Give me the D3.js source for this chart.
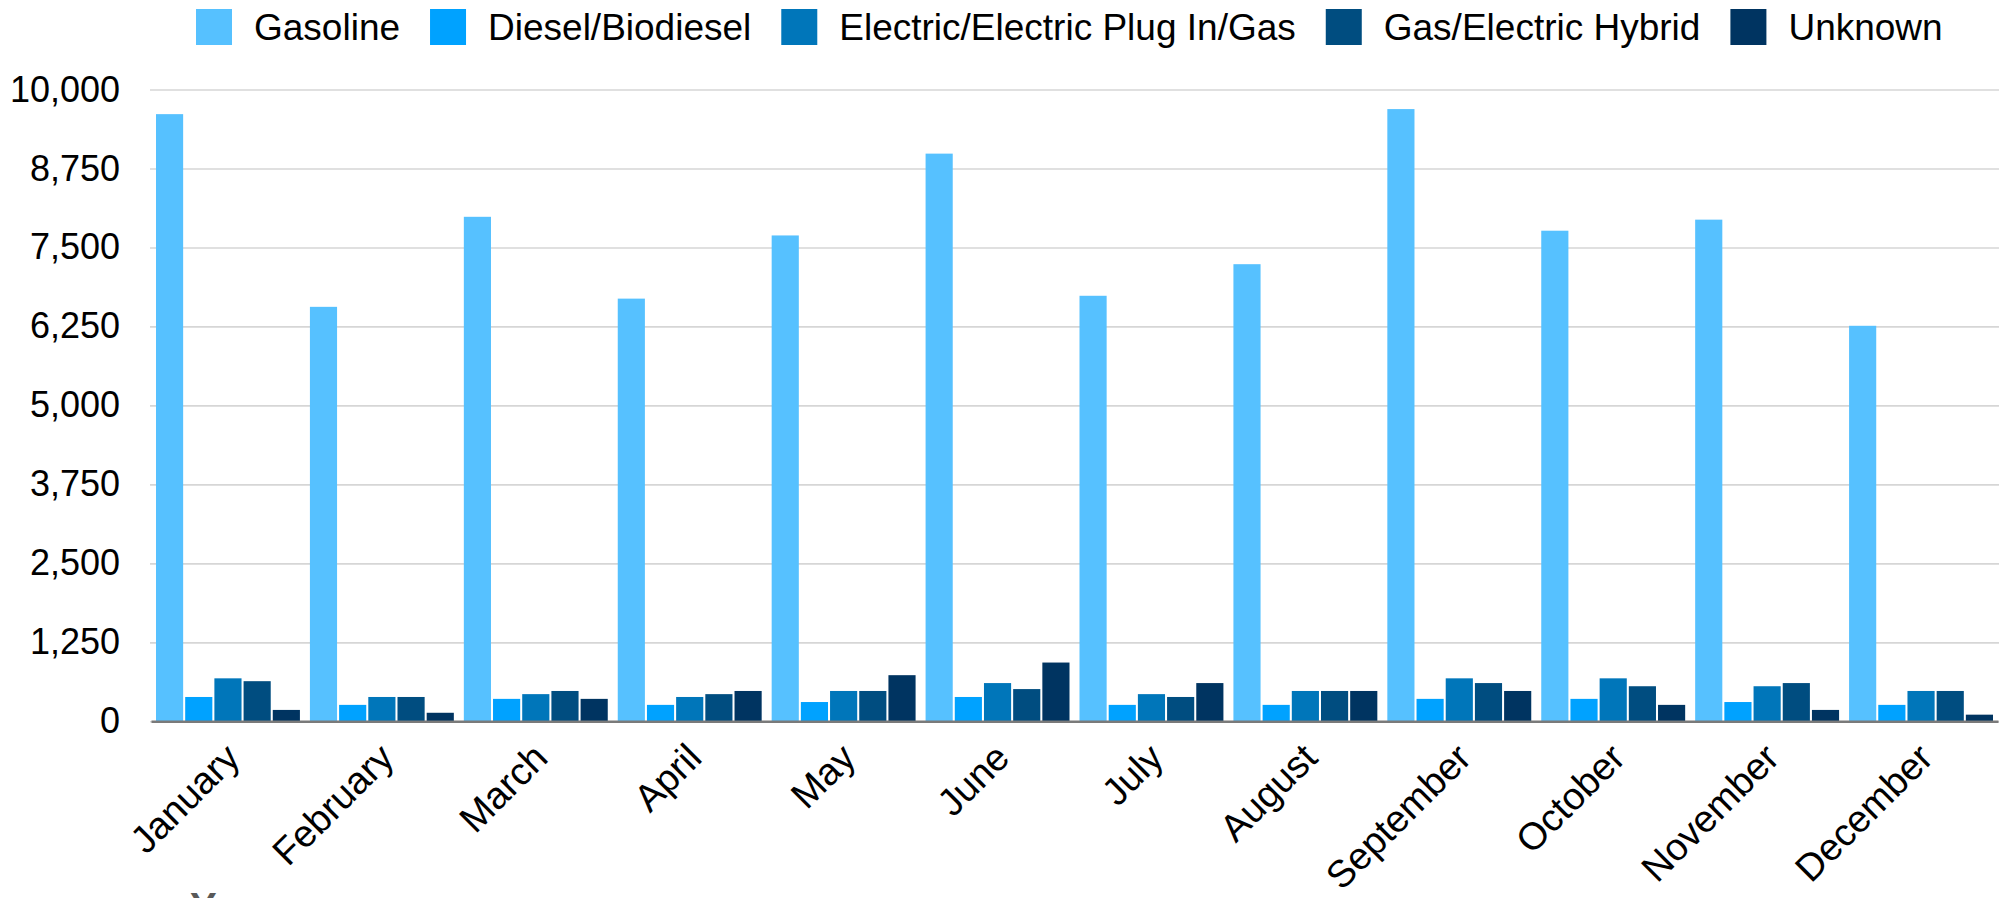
<!DOCTYPE html>
<html>
<head>
<meta charset="utf-8">
<script src="https://cdn.jsdelivr.net/npm/d3@7"></script>
<style>
  html, body { margin: 0; padding: 0; background: #ffffff; }
  svg { display: block; }
  text { font-family: "Liberation Sans", Arial, Helvetica, sans-serif; }
</style>
</head>
<body>
<svg id="chart" width="2013" height="898"></svg>
<script>
const months = ["January","February","March","April","May","June","July","August","September","October","November","December"];
const seriesNames = ["Gasoline","Diesel/Biodiesel","Electric/Electric Plug In/Gas","Gas/Electric Hybrid","Unknown"];
const seriesColors = ["#56c1ff","#00a2ff","#0076ba","#004d80","#003461"];
const gasoline = [9610, 6560, 7985, 6690, 7690, 8985, 6735, 7235, 9690, 7765, 7940, 6260];
const diesel   = [385, 260, 355, 260, 305, 385, 260, 260, 355, 355, 305, 260];
const electric = [680, 385, 430, 385, 480, 605, 430, 480, 680, 680, 555, 480];
const hybrid   = [635, 385, 480, 430, 480, 510, 385, 480, 605, 555, 605, 480];
const unknown  = [180, 135, 355, 480, 730, 930, 605, 480, 480, 260, 180, 105];
const yTicks = [0, 1250, 2500, 3750, 5000, 6250, 7500, 8750, 10000];
const axisTitle = "Year";

(function () {
const seriesValues = [gasoline, diesel, electric, hybrid, unknown];
const rows = months.map((m, i) => ({ month: m, values: seriesNames.map((s, j) => ({ key: s, value: seriesValues[j][i] })) }));

const svg = d3.select("#chart");
const mLeft = 151, mRight = 1998, mTop = 89.5, mBottom = 721.3;

const x0 = d3.scaleBand().domain(months).range([mLeft, mRight]).paddingInner(0).paddingOuter(0);
const x1 = d3.scaleBand().domain(seriesNames).range([5, x0.bandwidth() - 5]).paddingInner(0.07);
const y = d3.scaleLinear().domain([0, 10000]).range([mBottom, mTop]);
const color = d3.scaleOrdinal().domain(seriesNames).range(seriesColors);
const fmt = d3.format(",");

// gridlines
const yAxis = d3.axisLeft(y).tickValues(yTicks).tickSize(-(mRight - mLeft + 2)).tickFormat("");
const gGrid = svg.append("g").attr("transform", `translate(${mLeft - 1},0)`).call(yAxis);
gGrid.select(".domain").remove();
gGrid.selectAll(".tick line").attr("stroke", "#d6d6d6").attr("stroke-width", 1.6);

// y labels
const yLab = d3.axisLeft(y).tickValues(yTicks).tickSize(0).tickPadding(0).tickFormat(fmt);
const gY = svg.append("g").attr("transform", `translate(120,0)`).call(yLab);
gY.select(".domain").remove();
gY.selectAll(".tick text").attr("font-size", 36).attr("fill", "#000").attr("font-family", '"Liberation Sans", Arial, sans-serif');

// bars
const groups = svg.append("g").selectAll("g").data(rows).join("g")
  .attr("transform", d => `translate(${x0(d.month)},0)`);
groups.selectAll("rect").data(d => d.values).join("rect")
  .attr("x", d => x1(d.key))
  .attr("width", x1.bandwidth())
  .attr("y", d => y(d.value))
  .attr("height", d => y(0) - y(d.value))
  .attr("fill", d => color(d.key));

// baseline
const xAxis = d3.axisBottom(x0).tickSize(0).tickFormat("");
const gX = svg.append("g").attr("transform", `translate(0,${mBottom})`).call(xAxis);
gX.select(".domain").attr("stroke", "#7a7a7a").attr("stroke-width", 2.6);

// x labels
svg.append("g").selectAll("text").data(months).join("text")
  .attr("transform", d => `translate(${x0(d) + x0.bandwidth() / 2 + 14},760) rotate(-45)`)
  .attr("text-anchor", "end")
  .attr("font-size", 38)
  .attr("fill", "#000")
  .text(d => d);

// legend
const legend = svg.append("g");
const items = legend.selectAll("g").data(seriesNames).join("g");
items.append("rect").attr("width", 36).attr("height", 36).attr("y", 9).attr("fill", d => color(d));
items.append("text").attr("x", 58).attr("y", 27).attr("dy", "0.35em").attr("font-size", 37).attr("fill", "#000").text(d => d);
const widths = [];
items.each(function () { widths.push(d3.select(this).select("text").node().getComputedTextLength()); });
let start = 196;
items.attr("transform", (d, i) => { const t = `translate(${start},0)`; start += 58 + widths[i] + 30; return t; });

// axis title (cut off at the bottom edge)
svg.append("text").attr("x", 190).attr("y", 921).attr("font-size", 40).attr("font-weight", "bold").attr("fill", "#595959").text(axisTitle);
})();
</script>
</body>
</html>
